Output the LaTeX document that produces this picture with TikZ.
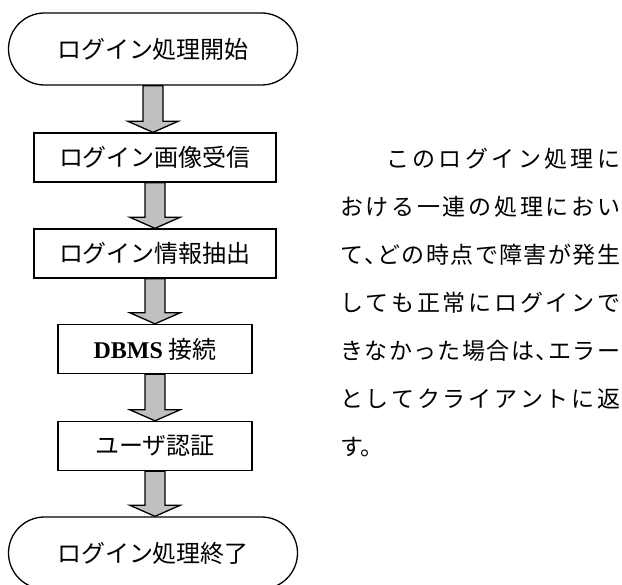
\documentclass[tikz,border=0pt]{standalone}
\usepackage{fontspec}
\newfontfamily\jpfont{Noto Sans CJK JP}
\newfontfamily\enfont{Liberation Serif}
\usetikzlibrary{calc}

\definecolor{arrowgray}{HTML}{C0C0C0}
\newcommand{\ten}{\hfil\makebox[11.5pt][l]{、}\hfil}

% 太い下向き矢印
\newcommand{\flowarrow}[2]{%
  \draw[blockarrow] let \p1=(#1.south), \p2=(#2.north) in
    (\x1-10pt,\y1) -- (\x1-10pt,\y2+11pt) -- (\x1-25pt,\y2+11pt) -- (\x1,\y2)
    -- (\x1+25pt,\y2+11pt) -- (\x1+10pt,\y2+11pt) -- (\x1+10pt,\y1) -- cycle;}

\tikzset{
  terminal/.style={draw, line width=1.3pt, rounded corners=36pt,
    minimum width=289pt, minimum height=72pt,
    font=\jpfont\fontsize{24}{24}\selectfont},
  process/.style={draw, line width=1.3pt, minimum height=49pt,
    font=\jpfont\fontsize{24}{24}\selectfont},
  blockarrow/.style={draw, line width=1.3pt, fill=arrowgray},
}

\begin{document}
\begin{tikzpicture}[x=1pt, y=-1pt]
    \clip (0,0) rectangle (622,585);

    \node[terminal] (start) at (153, 49) {ログイン処理開始};
    \node[process, minimum width=242pt] (recv) at (155, 157.5) {ログイン画像受信};
    \node[process, minimum width=242pt] (extract) at (155, 253.5) {ログイン情報抽出};
    \node[process, minimum width=194pt] (dbms) at (155, 349)
      {{\enfont\bfseries\fontsize{24}{24}\selectfont DBMS} 接続};
    \node[process, minimum width=194pt] (auth) at (155, 446) {ユーザ認証};
    \node[terminal] (end) at (153, 553) {ログイン処理終了};

    % 矢印
    \flowarrow{start}{recv}
    \flowarrow{recv}{extract}
    \flowarrow{extract}{dbms}
    \flowarrow{dbms}{auth}
    \flowarrow{auth}{end}

    % 説明文
    \node[anchor=north west, inner sep=0pt, text width=280pt, align=justify,
      font=\jpfont\fontsize{23}{48}\selectfont] (note) at (340, 148) {%
      \noindent\XeTeXlinebreaklocale "ja"\XeTeXlinebreakskip=0pt plus 1fil
      \hspace*{2em}このログイン処理に\linebreak
      おける一連の処理におい\linebreak
      て\ten どの時点で障害が発生\linebreak
      しても正常にログインで\linebreak
      きなかった場合は\ten エラー\linebreak
      としてクライアントに返\linebreak
      す。};
\end{tikzpicture}
\end{document}
